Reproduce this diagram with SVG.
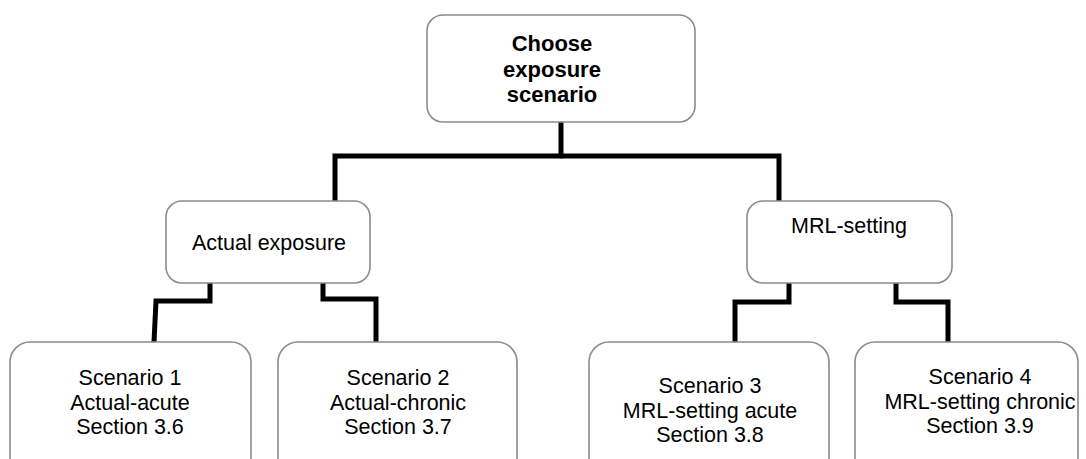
<svg xmlns="http://www.w3.org/2000/svg" width="1086" height="459" viewBox="0 0 1086 459">
  <style>
    .box { fill: #ffffff; stroke: #8c8c8c; stroke-width: 1.6; }
    .lbl { font-family: "Liberation Sans", Arial, sans-serif; font-size: 21.5px; fill: #000; text-anchor: middle; }
    .bold { font-weight: bold; font-size: 22px; }
    .wire { fill: none; stroke: #000; stroke-width: 5; stroke-linecap: round; stroke-linejoin: miter; }
  </style>
  <rect width="1086" height="459" fill="#ffffff"/>

  <!-- elbow connectors -->
  <g id="connectors">
    <path class="wire" d="M561,122 V156"/>
    <path class="wire" d="M335,201 V156 H779 V201"/>
    <path class="wire" d="M210,283 V301 H156 L154,342"/>
    <path class="wire" d="M323,283 V299 H376 V342"/>
    <path class="wire" d="M789,283 V302 H735 V342"/>
    <path class="wire" d="M896,283 V302 H948 V342"/>
  </g>

  <g id="root">
    <rect class="box" x="427" y="15" width="268" height="107" rx="16"/>
    <text class="lbl bold" x="552" y="51">Choose</text>
    <text class="lbl bold" x="552" y="77">exposure</text>
    <text class="lbl bold" x="552" y="102">scenario</text>
  </g>

  <g id="actual">
    <rect class="box" x="166" y="201" width="204" height="82" rx="16"/>
    <text class="lbl" x="269" y="250">Actual exposure</text>
  </g>

  <g id="mrl">
    <rect class="box" x="747" y="201" width="205" height="82" rx="16"/>
    <text class="lbl" x="849" y="233">MRL-setting</text>
  </g>

  <g id="scenario1">
    <rect class="box" x="10" y="342" width="241" height="140" rx="20"/>
    <text class="lbl" x="130" y="385">Scenario 1</text>
    <text class="lbl" x="130" y="409.5">Actual-acute</text>
    <text class="lbl" x="130" y="434">Section 3.6</text>
  </g>

  <g id="scenario2">
    <rect class="box" x="278" y="342" width="239" height="140" rx="20"/>
    <text class="lbl" x="398" y="385">Scenario 2</text>
    <text class="lbl" x="398" y="409.5">Actual-chronic</text>
    <text class="lbl" x="398" y="434">Section 3.7</text>
  </g>

  <g id="scenario3">
    <rect class="box" x="589" y="342" width="240" height="140" rx="20"/>
    <text class="lbl" x="710" y="393">Scenario 3</text>
    <text class="lbl" x="710" y="417.5">MRL-setting acute</text>
    <text class="lbl" x="710" y="442">Section 3.8</text>
  </g>

  <g id="scenario4">
    <rect class="box" x="855" y="342" width="223" height="140" rx="20"/>
    <text class="lbl" x="980" y="384">Scenario 4</text>
    <text class="lbl" x="980" y="408.5">MRL-setting chronic</text>
    <text class="lbl" x="980" y="433">Section 3.9</text>
  </g>
</svg>
